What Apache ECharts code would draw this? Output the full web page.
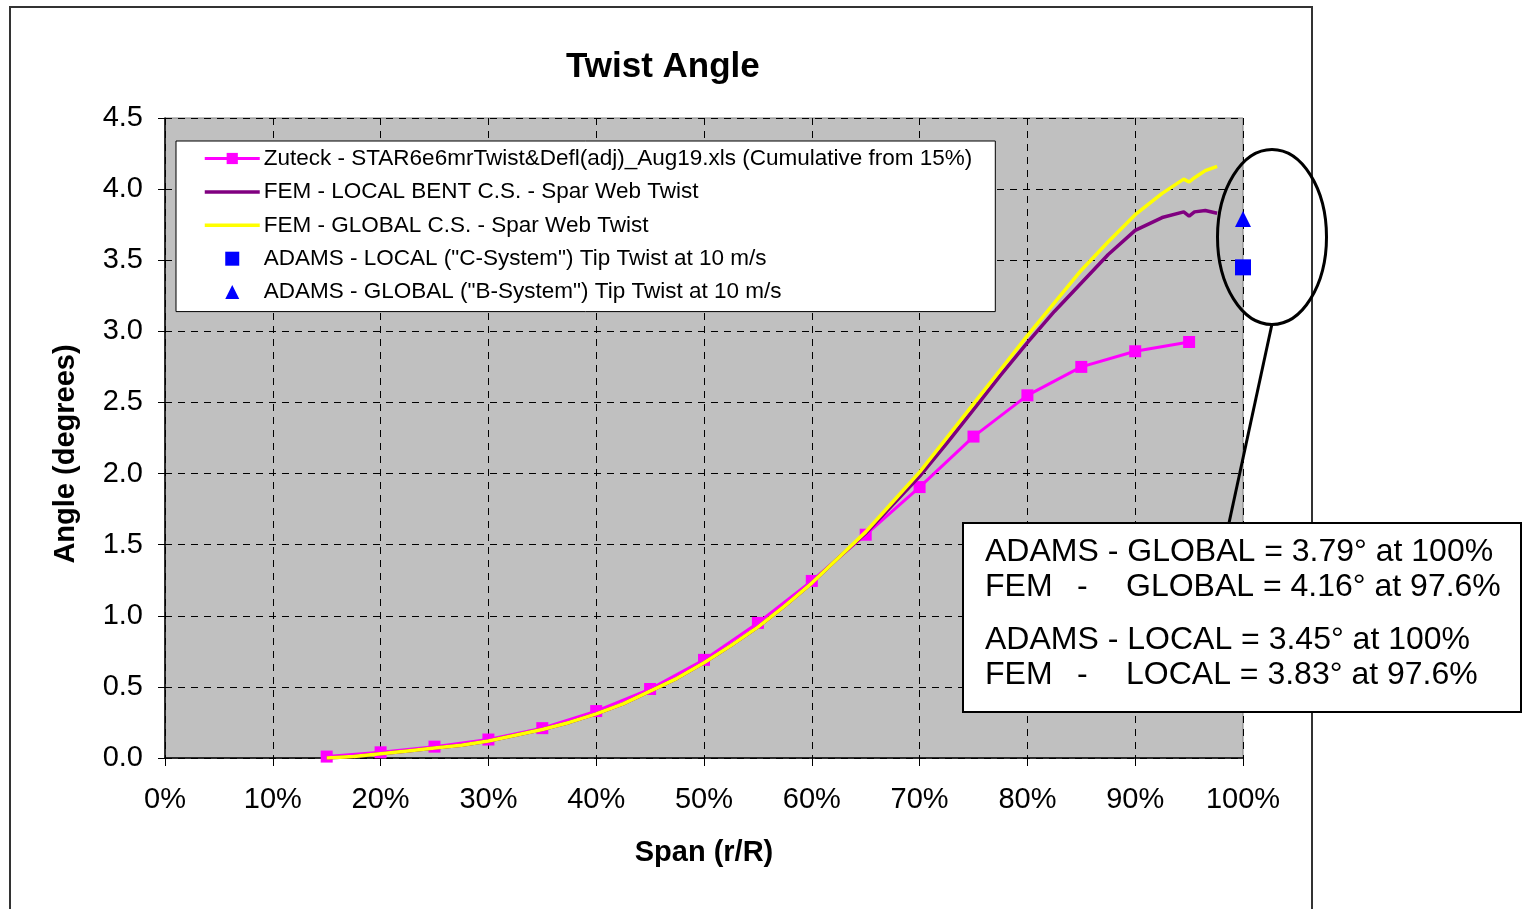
<!DOCTYPE html>
<html>
<head>
<meta charset="utf-8">
<script src="https://cdn.jsdelivr.net/npm/echarts@6/dist/echarts.min.js"></script>
<style>html,body{margin:0;padding:0;background:#fff;}#c{width:1522px;height:909px;}</style>
</head>
<body>
<div id="c"></div>
<script>
// ---- Data ----
const zuteckSpan = [15, 20, 25, 30, 35, 40, 45, 50, 55, 60, 65, 70, 75, 80, 85, 90, 95];
const zuteckTwist = [0.01, 0.04, 0.08, 0.13, 0.21, 0.33, 0.485, 0.69, 0.95, 1.245, 1.57, 1.905, 2.26, 2.55, 2.75, 2.86, 2.925];

const femSpan = [15, 17.5, 20, 22.5, 25, 27.5, 30, 32.5, 35, 37.5, 40, 42.5, 45, 47.5, 50, 52.5, 55, 57.5, 60, 62.5, 65, 67.5, 70, 72.5, 75, 77.5, 80, 82.5, 85, 87.5, 90, 92.5, 94.5, 95, 95.5, 96.5, 97.6];
const femGlobal = [0.0, 0.01, 0.03, 0.05, 0.07, 0.09, 0.12, 0.16, 0.20, 0.25, 0.31, 0.38, 0.47, 0.56, 0.67, 0.79, 0.92, 1.07, 1.23, 1.41, 1.59, 1.80, 2.01, 2.25, 2.49, 2.73, 2.97, 3.20, 3.43, 3.63, 3.82, 3.97, 4.07, 4.05, 4.08, 4.13, 4.16];
const femLocal = [0.0, 0.01, 0.03, 0.05, 0.07, 0.09, 0.12, 0.16, 0.20, 0.25, 0.31, 0.38, 0.47, 0.56, 0.67, 0.79, 0.92, 1.07, 1.23, 1.41, 1.58, 1.78, 1.98, 2.21, 2.45, 2.69, 2.92, 3.14, 3.34, 3.54, 3.71, 3.80, 3.84, 3.81, 3.84, 3.85, 3.83];

const adamsLocal = [[100, 3.45]];
const adamsGlobal = [[100, 3.79]];

const seriesNames = [
  'Zuteck - STAR6e6mrTwist&Defl(adj)_Aug19.xls (Cumulative from 15%)',
  'FEM - LOCAL BENT C.S. - Spar Web Twist',
  'FEM - GLOBAL C.S. - Spar Web Twist',
  'ADAMS - LOCAL ("C-System") Tip Twist at 10 m/s',
  'ADAMS - GLOBAL ("B-System") Tip Twist at 10 m/s'
];
const noteLines = [
  ['ADAMS - GLOBAL = 3.79° at 100%'],
  ['FEM', '-', 'GLOBAL = 4.16° at 97.6%'],
  ['ADAMS - LOCAL = 3.45° at 100%'],
  ['FEM', '-', 'LOCAL = 3.83° at 97.6%']
];

const pair = (xs, ys) => xs.map((x, i) => [x, ys[i]]);
const FONT = '"Liberation Sans", Arial, sans-serif';
const SQUARE = 'path://M0,0 L10,0 L10,10 L0,10 Z';
const TRIANGLE = 'path://M5,0 L10,10 L0,10 Z';

const chart = echarts.init(document.getElementById('c'), null, {renderer: 'canvas'});

const noteY = [553, 588, 641, 676];
const noteText = [];
const noteFont = '32px ' + FONT;
noteLines.forEach((ln, i) => {
  const top = noteY[i] - 17;
  if (ln.length === 1) {
    noteText.push({type: 'text', left: 985, top: top, z: 102,
      style: {text: ln[0], font: noteFont, fill: '#000'}});
  } else {
    noteText.push({type: 'text', left: 985, top: top, z: 102,
      style: {text: ln[0], font: noteFont, fill: '#000'}});
    noteText.push({type: 'text', left: 1077, top: top, z: 102,
      style: {text: ln[1], font: noteFont, fill: '#000'}});
    noteText.push({type: 'text', left: 1126, top: top, z: 102,
      style: {text: ln[2], font: noteFont, fill: '#000'}});
  }
});

chart.setOption({
  backgroundColor: '#ffffff',
  animation: false,
  title: {
    text: 'Twist Angle',
    left: 561, top: 45,
    textStyle: {fontFamily: FONT, fontSize: 35, fontWeight: 'bold', color: '#000'}
  },
  grid: {
    left: 165, right: 279, top: 118, bottom: 151,
    show: true, backgroundColor: '#c0c0c0', borderColor: '#808080', borderWidth: 1
  },
  legend: {
    orient: 'vertical',
    left: 176, top: 141,
    backgroundColor: '#ffffff', borderColor: '#000', borderWidth: 1,
    padding: [6, 23, 8, 27],
    itemWidth: 55, itemHeight: 14, itemGap: 10.4,
    textStyle: {fontFamily: FONT, fontSize: 22.5, color: '#000', padding: [0, 0, 0, -1]},
    data: [
      {name: seriesNames[0], lineStyle: {width: 3}},
      {name: seriesNames[1], itemStyle: {opacity: 0}, lineStyle: {width: 3.5}},
      {name: seriesNames[2], itemStyle: {opacity: 0}, lineStyle: {width: 3.5}},
      {name: seriesNames[3]},
      {name: seriesNames[4]}
    ]
  },
  xAxis: {
    type: 'value', min: 0, max: 100, interval: 10,
    axisLine: {show: true, onZero: false, lineStyle: {color: '#000', width: 1.5}},
    axisTick: {show: true, length: 8, lineStyle: {color: '#000'}},
    axisLabel: {formatter: '{value}%', fontFamily: FONT, fontSize: 29, color: '#000', margin: 27},
    splitLine: {show: true, lineStyle: {color: '#000', type: [7, 6], width: 1}},
    name: 'Span (r/R)', nameLocation: 'middle', nameGap: 80,
    nameTextStyle: {fontFamily: FONT, fontSize: 29, fontWeight: 'bold', color: '#000'}
  },
  yAxis: {
    type: 'value', min: 0, max: 4.5, interval: 0.5,
    axisLine: {show: true, lineStyle: {color: '#000', width: 1.5}},
    axisTick: {show: true, length: 7, lineStyle: {color: '#000'}},
    axisLabel: {formatter: v => v.toFixed(1), fontFamily: FONT, fontSize: 29, color: '#000', margin: 22},
    splitLine: {show: true, lineStyle: {color: '#000', type: [7, 6], width: 1}},
    name: 'Angle (degrees)', nameLocation: 'middle', nameGap: 85, nameRotate: 90,
    nameTextStyle: {fontFamily: FONT, fontSize: 29, fontWeight: 'bold', color: '#000', padding: [0, 32, 0, 0]}
  },
  series: [
    {
      name: seriesNames[0], type: 'line', data: pair(zuteckSpan, zuteckTwist),
      symbol: 'rect', symbolSize: 12, z: 3,
      lineStyle: {color: '#ff00ff', width: 3}, itemStyle: {color: '#ff00ff'}
    },
    {
      name: seriesNames[1], type: 'line', data: pair(femSpan, femLocal),
      symbol: 'none', z: 4,
      lineStyle: {color: '#800080', width: 3.5}, itemStyle: {color: '#800080'}
    },
    {
      name: seriesNames[2], type: 'line', data: pair(femSpan, femGlobal),
      symbol: 'none', z: 5,
      lineStyle: {color: '#ffff00', width: 3.5}, itemStyle: {color: '#ffff00'}
    },
    {
      name: seriesNames[3], type: 'scatter', data: adamsLocal, clip: false,
      symbol: SQUARE, symbolKeepAspect: true, symbolSize: 16, z: 6,
      itemStyle: {color: '#0000ff', opacity: 1}
    },
    {
      name: seriesNames[4], type: 'scatter', data: adamsGlobal, clip: false,
      symbol: TRIANGLE, symbolKeepAspect: true, symbolSize: 16, z: 6,
      itemStyle: {color: '#0000ff', opacity: 1}
    }
  ],
  graphic: [
    {type: 'rect', shape: {x: 10, y: 7, width: 1302, height: 920}, z: 100, silent: true,
      style: {fill: 'none', stroke: '#333', lineWidth: 2}},
    {type: 'ellipse', shape: {cx: 1272, cy: 237, rx: 54.5, ry: 87.5}, z: 100, silent: true,
      style: {fill: 'none', stroke: '#000', lineWidth: 3}},
    {type: 'line', shape: {x1: 1272, y1: 324, x2: 1229, y2: 523}, z: 100, silent: true,
      style: {stroke: '#000', lineWidth: 3}},
    {type: 'rect', shape: {x: 963, y: 523, width: 558, height: 189}, z: 101, silent: true,
      style: {fill: '#fff', stroke: '#000', lineWidth: 2}}
  ].concat(noteText)
});
</script>
</body>
</html>
